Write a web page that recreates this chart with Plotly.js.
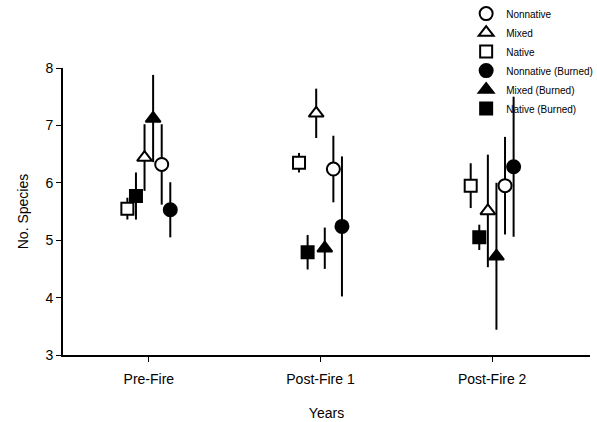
<!DOCTYPE html>
<html>
<head>
<meta charset="utf-8">
<script src="https://cdn.plot.ly/plotly-3.0.1.min.js"></script>
<style>html,body{margin:0;padding:0;background:#fff;}#chart{width:597px;height:422px;}</style>
</head>
<body>
<div id="chart"></div>
<script>
const years = ["Pre-Fire", "Post-Fire 1", "Post-Fire 2"];

const seriesNames = ["Native", "Native (Burned)", "Mixed", "Mixed (Burned)", "Nonnative", "Nonnative (Burned)"];

const nativeMean = [5.55, 6.35, 5.95];
const nativeErr = [0.19, 0.17, 0.39];
const nativeBurnedMean = [5.77, 4.79, 5.05];
const nativeBurnedErr = [0.41, 0.30, 0.22];
const mixedMean = [6.44, 7.21, 5.51];
const mixedErr = [0.58, 0.43, 0.98];
const mixedBurnedMean = [7.12, 4.86, 4.72];
const mixedBurnedErr = [0.76, 0.36, 1.28];
const nonnativeMean = [6.32, 6.24, 5.95];
const nonnativeErr = [0.70, 0.58, 0.85];
const nonnativeBurnedMean = [5.53, 5.24, 6.28];
const nonnativeBurnedErr = [0.48, 1.22, 1.22];

const yTicks = [3, 4, 5, 6, 7, 8];

const means = [nativeMean, nativeBurnedMean, mixedMean, mixedBurnedMean, nonnativeMean, nonnativeBurnedMean];
const errs = [nativeErr, nativeBurnedErr, mixedErr, mixedBurnedErr, nonnativeErr, nonnativeBurnedErr];
const symbols = ["square", "square", "triangle-up", "triangle-up", "circle", "circle"];
const fills = ["#fff", "#000", "#fff", "#000", "#fff", "#000"];
const sizes = [12, 12, 13, 13, 13, 13];
// legend display order
const legendRank = {"Nonnative": 1, "Mixed": 2, "Native": 3, "Nonnative (Burned)": 4, "Mixed (Burned)": 5, "Native (Burned)": 6};

const traces = seriesNames.map((name, i) => ({
  type: "scatter",
  mode: "markers",
  name: name,
  x: years,
  y: means[i],
  offsetgroup: "g" + i,
  legendrank: legendRank[name],
  error_y: {type: "data", array: errs[i], visible: true, color: "#000", thickness: 2, width: 0},
  marker: {
    symbol: symbols[i],
    size: sizes[i],
    color: fills[i],
    line: {color: "#000", width: 2}
  },
  cliponaxis: false
}));

const layout = {
  width: 597, height: 422,
  margin: {l: 63, r: 7, t: 68, b: 67, autoexpand: false},
  paper_bgcolor: "#fff",
  plot_bgcolor: "#fff",
  font: {family: "Arial, 'Liberation Sans', sans-serif", color: "#000", size: 14},
  scattermode: "group",
  scattergap: 0.7,
  xaxis: {
    type: "category",
    range: [-0.5, 2.57],
    showline: true, linecolor: "#000", linewidth: 2,
    ticks: "outside", ticklen: 5, tickcolor: "#000", tickwidth: 1,
    ticklabelstandoff: 5,
    showgrid: false, zeroline: false,
    tickfont: {size: 14},
    title: {text: "Years", font: {size: 14}, standoff: 22}
  },
  yaxis: {
    range: [3, 8],
    tickvals: yTicks,
    showline: true, linecolor: "#000", linewidth: 2,
    ticks: "outside", ticklen: 5, tickcolor: "#000", tickwidth: 1,
    showgrid: false, zeroline: false,
    tickfont: {size: 14},
    title: {text: "No. Species", font: {size: 14}, standoff: 14}
  },
  legend: {
    x: 0.765, y: 1.24, xanchor: "left", yanchor: "top",
    bgcolor: "rgba(0,0,0,0)",
    font: {size: 10},
    tracegroupgap: 0,
    itemwidth: 30
  },
  showlegend: true
};

Plotly.newPlot("chart", traces, layout, {displayModeBar: false, staticPlot: true});
</script>
</body>
</html>
